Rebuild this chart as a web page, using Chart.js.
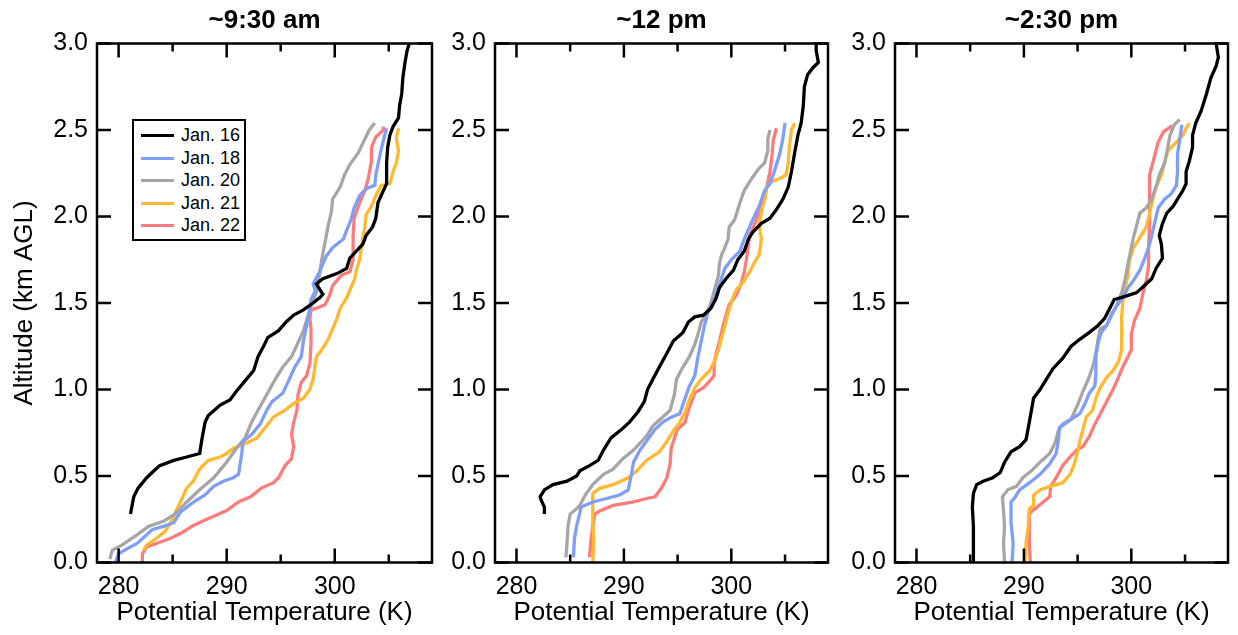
<!DOCTYPE html>
<html>
<head>
<meta charset="utf-8">
<script src="https://cdn.jsdelivr.net/npm/chart.js@4.4.0/dist/chart.umd.min.js"></script>
<style>
body{margin:0;background:#fff;width:1238px;height:635px;position:relative;overflow:hidden;font-family:"Liberation Sans",Arial,sans-serif}
canvas{position:absolute;top:0}
#legend{position:absolute;left:132px;top:119px;width:110px;height:115px;border:2px solid #000;background:#fff;padding-top:3px}
#legend .row{position:relative;height:22.5px;line-height:22.5px;font-size:18px;color:#000}
#legend .sw{position:absolute;left:7px;top:10px;width:33px;height:3px}
#legend .lb{position:absolute;left:47px;top:0}
</style>
</head>
<body>
<canvas id="c1" width="440" height="635" style="left:0"></canvas>
<canvas id="c2" width="400" height="635" style="left:440px"></canvas>
<canvas id="c3" width="398" height="635" style="left:840px"></canvas>
<div id="legend"></div>
<script>
// profiles: [theta K, altitude km]
const dates = ['Jan. 16','Jan. 18','Jan. 20','Jan. 21','Jan. 22'];
const colors = ['#000000','#7f9ef7','#a6a6a6','#ffb830','#ff7b7b'];
const titles = ['~9:30 am','~12 pm','~2:30 pm'];
const xLabels = [280,290,300];

// ~9:30 am
const am16 = [[281.1,0.28],[281.4,0.38],[281.8,0.43],[282.6,0.49],[283.1,0.52],[283.8,0.56],[285.1,0.59],[286.3,0.61],[287.5,0.63],[287.7,0.71],[288.0,0.81],[288.3,0.85],[289.4,0.91],[290.3,0.94],[290.9,0.99],[291.7,1.05],[292.5,1.11],[292.9,1.19],[293.5,1.26],[293.8,1.30],[294.8,1.34],[295.5,1.39],[296.2,1.43],[297.1,1.46],[298.0,1.50],[298.6,1.53],[298.9,1.55],[298.3,1.61],[298.9,1.64],[300.2,1.67],[301.1,1.70],[301.4,1.76],[302.0,1.80],[302.6,1.84],[302.9,1.89],[303.5,1.94],[303.8,1.99],[304.0,2.08],[304.5,2.15],[304.8,2.19],[304.8,2.31],[304.9,2.40],[305.1,2.47],[305.4,2.52],[305.9,2.57],[306.0,2.64],[306.2,2.71],[306.3,2.80],[306.5,2.89],[306.7,2.96],[306.9,3.0]];
const am18 = [[279.7,0.0],[280.0,0.05],[280.8,0.08],[281.7,0.11],[282.6,0.16],[283.1,0.19],[284.2,0.21],[285.1,0.23],[285.7,0.29],[286.3,0.32],[287.2,0.36],[288.0,0.39],[288.8,0.44],[289.7,0.47],[290.6,0.49],[291.1,0.51],[291.4,0.63],[291.5,0.70],[292.3,0.74],[293.1,0.80],[293.7,0.88],[294.2,0.93],[295.2,0.98],[295.8,1.06],[296.3,1.13],[296.9,1.19],[297.1,1.28],[297.4,1.37],[297.7,1.47],[297.8,1.52],[298.2,1.57],[298.0,1.61],[298.6,1.68],[299.2,1.77],[299.8,1.82],[300.8,1.87],[301.1,1.92],[301.5,1.98],[301.8,2.05],[302.3,2.12],[302.9,2.16],[303.7,2.18],[303.8,2.24],[304.2,2.36],[304.5,2.44],[304.8,2.51]];
const am20 = [[279.2,0.02],[279.4,0.07],[280.3,0.10],[281.7,0.16],[282.8,0.21],[284.2,0.24],[285.2,0.28],[286.3,0.35],[287.5,0.42],[288.8,0.49],[290.0,0.58],[290.9,0.66],[291.7,0.72],[292.3,0.81],[292.9,0.88],[293.7,0.97],[294.5,1.06],[295.2,1.13],[296.0,1.19],[296.6,1.27],[297.1,1.34],[297.5,1.42],[297.8,1.48],[298.3,1.56],[298.5,1.63],[298.8,1.75],[299.1,1.85],[299.4,1.95],[299.7,2.03],[299.8,2.10],[300.5,2.17],[300.9,2.24],[301.4,2.30],[302.2,2.37],[302.8,2.45],[303.2,2.50],[303.7,2.54]];
const am21 = [[282.3,0.07],[282.6,0.10],[283.5,0.14],[284.3,0.18],[284.9,0.24],[285.4,0.31],[285.8,0.36],[286.3,0.43],[286.9,0.47],[287.5,0.54],[288.3,0.59],[289.4,0.61],[290.0,0.63],[290.6,0.66],[291.8,0.69],[292.8,0.72],[293.7,0.79],[294.3,0.84],[295.4,0.88],[296.2,0.92],[297.1,0.95],[297.7,1.00],[298.0,1.06],[298.3,1.19],[298.8,1.23],[299.4,1.29],[299.8,1.35],[300.2,1.41],[300.5,1.47],[301.1,1.53],[301.5,1.59],[301.8,1.63],[302.0,1.69],[302.3,1.75],[302.5,1.84],[302.8,1.94],[302.9,2.01],[303.4,2.06],[303.8,2.12],[304.3,2.18],[305.1,2.19],[305.4,2.26],[305.7,2.31],[305.9,2.38],[305.7,2.45],[305.9,2.51]];
const am22 = [[282.2,0.0],[282.2,0.05],[282.6,0.09],[283.5,0.11],[284.8,0.14],[285.8,0.17],[286.8,0.21],[287.8,0.24],[288.9,0.27],[290.0,0.30],[291.1,0.35],[292.2,0.38],[293.2,0.43],[294.3,0.46],[294.8,0.49],[295.4,0.56],[296.0,0.60],[296.2,0.67],[296.0,0.74],[296.2,0.81],[296.5,0.88],[296.6,0.97],[296.9,1.04],[297.4,1.08],[297.7,1.15],[297.8,1.26],[297.8,1.35],[297.7,1.41],[297.8,1.46],[298.3,1.47],[299.1,1.49],[299.5,1.54],[299.8,1.60],[300.6,1.66],[301.4,1.68],[301.7,1.75],[301.7,1.89],[301.8,1.99],[302.3,2.08],[302.8,2.15],[303.1,2.22],[303.4,2.32],[303.4,2.40],[303.8,2.46],[304.5,2.50],[304.5,2.52]];

// ~12 pm
const noon16 = [[282.6,0.28],[282.6,0.32],[282.3,0.36],[282.2,0.38],[282.6,0.42],[283.4,0.45],[284.7,0.47],[285.6,0.50],[285.9,0.53],[286.8,0.56],[287.6,0.59],[288.1,0.65],[288.8,0.72],[289.8,0.77],[290.5,0.81],[291.3,0.87],[291.9,0.93],[292.2,1.00],[292.7,1.06],[293.3,1.13],[294.0,1.21],[294.6,1.28],[295.5,1.33],[296.0,1.39],[296.6,1.42],[297.4,1.43],[298.1,1.47],[298.6,1.53],[298.9,1.59],[299.5,1.64],[300.2,1.69],[300.6,1.75],[301.2,1.80],[301.6,1.87],[302.0,1.91],[302.8,1.96],[303.6,1.99],[304.2,2.04],[304.8,2.10],[305.3,2.17],[305.6,2.26],[305.9,2.37],[306.2,2.47],[306.5,2.54],[306.7,2.64],[306.8,2.75],[307.1,2.82],[307.6,2.86],[308.1,2.89],[307.9,2.96],[307.9,3.0]];
const noon18 = [[285.3,0.03],[285.4,0.14],[285.6,0.21],[285.9,0.29],[286.0,0.32],[287.1,0.35],[288.4,0.37],[289.6,0.39],[290.4,0.42],[290.7,0.51],[290.9,0.58],[291.5,0.65],[292.2,0.71],[292.9,0.77],[293.6,0.81],[294.4,0.84],[295.2,0.86],[295.7,0.95],[296.1,1.02],[296.6,1.08],[296.9,1.19],[297.2,1.28],[297.5,1.37],[297.8,1.44],[298.4,1.52],[298.9,1.61],[299.4,1.70],[300.0,1.75],[300.8,1.80],[301.2,1.87],[301.7,1.94],[302.2,2.01],[302.6,2.06],[303.1,2.15],[303.6,2.19],[304.0,2.26],[304.5,2.36],[304.8,2.45],[305.0,2.54]];
const noon20 = [[284.6,0.03],[284.7,0.11],[284.8,0.21],[285.0,0.28],[285.4,0.30],[285.9,0.33],[286.4,0.39],[287.1,0.45],[288.1,0.51],[289.0,0.54],[289.9,0.60],[290.9,0.65],[291.5,0.69],[292.1,0.73],[292.7,0.79],[293.6,0.84],[294.3,0.88],[294.7,0.97],[294.9,1.06],[295.5,1.13],[296.1,1.19],[296.6,1.26],[296.9,1.32],[297.2,1.39],[297.7,1.44],[298.1,1.50],[298.4,1.57],[298.8,1.66],[298.9,1.73],[299.1,1.78],[299.4,1.82],[299.7,1.87],[299.8,1.94],[300.3,1.98],[300.8,2.08],[301.2,2.15],[301.9,2.22],[302.6,2.28],[303.1,2.31],[303.4,2.38],[303.4,2.45],[303.6,2.50]];
const noon21 = [[287.1,0.0],[287.2,0.11],[287.1,0.25],[287.1,0.40],[287.8,0.43],[289.0,0.45],[290.4,0.49],[291.2,0.53],[292.1,0.59],[293.3,0.64],[294.0,0.70],[294.6,0.76],[295.2,0.81],[295.7,0.87],[296.1,0.94],[296.6,1.01],[297.2,1.06],[298.0,1.11],[298.4,1.16],[298.8,1.23],[299.1,1.30],[299.4,1.37],[299.7,1.44],[300.2,1.54],[300.5,1.58],[301.1,1.62],[301.7,1.68],[302.2,1.74],[302.6,1.78],[302.8,1.87],[302.6,1.95],[302.8,2.03],[303.1,2.10],[303.3,2.17],[303.7,2.20],[304.5,2.22],[305.1,2.24],[305.3,2.31],[305.4,2.40],[305.6,2.50],[305.9,2.54]];
const noon22 = [[286.8,0.03],[286.9,0.11],[287.1,0.21],[287.3,0.28],[287.8,0.30],[289.0,0.33],[290.9,0.35],[292.1,0.37],[292.9,0.38],[293.5,0.43],[294.0,0.49],[294.3,0.57],[294.4,0.66],[294.7,0.72],[295.0,0.77],[295.7,0.81],[296.0,0.88],[296.3,0.93],[296.6,0.98],[297.4,1.01],[298.0,1.05],[298.4,1.08],[298.4,1.15],[298.6,1.21],[298.9,1.28],[299.2,1.36],[299.5,1.43],[299.8,1.49],[300.5,1.55],[300.9,1.61],[301.2,1.68],[301.4,1.75],[301.6,1.84],[301.7,1.89],[302.2,1.96],[302.6,2.03],[303.1,2.10],[303.3,2.17],[303.6,2.26],[303.8,2.36],[303.9,2.44],[304.2,2.51]];

// ~2:30 pm
const pm16 = [[285.3,0.0],[285.3,0.11],[285.3,0.21],[285.2,0.32],[285.3,0.40],[285.6,0.45],[286.2,0.47],[287.1,0.49],[287.8,0.52],[288.2,0.58],[288.8,0.64],[289.6,0.67],[290.2,0.71],[290.5,0.81],[290.9,0.95],[291.5,1.00],[292.1,1.06],[292.7,1.12],[293.6,1.18],[294.4,1.25],[295.2,1.29],[296.1,1.33],[296.9,1.37],[297.5,1.41],[298.0,1.47],[298.4,1.52],[299.5,1.54],[300.5,1.56],[301.2,1.60],[301.9,1.64],[302.3,1.70],[302.9,1.76],[302.8,1.84],[302.6,1.89],[302.9,1.96],[303.3,2.02],[303.9,2.06],[304.3,2.10],[304.8,2.15],[305.1,2.19],[305.1,2.26],[305.4,2.32],[305.7,2.40],[305.7,2.47],[306.0,2.54],[306.5,2.61],[307.0,2.71],[307.4,2.80],[307.9,2.87],[308.1,2.92],[307.9,3.0]];
const pm18 = [[288.9,0.0],[289.0,0.11],[288.8,0.23],[288.8,0.35],[289.1,0.37],[289.6,0.42],[290.5,0.46],[291.5,0.51],[292.4,0.57],[293.0,0.63],[293.2,0.70],[293.3,0.78],[294.0,0.81],[294.7,0.84],[295.2,0.86],[295.7,0.92],[296.1,0.98],[296.6,1.02],[296.7,1.09],[296.7,1.19],[296.9,1.27],[297.2,1.33],[297.7,1.37],[298.1,1.43],[298.6,1.48],[299.2,1.53],[299.7,1.59],[300.2,1.63],[300.8,1.69],[301.2,1.75],[301.6,1.82],[301.9,1.89],[302.2,1.97],[302.5,2.05],[303.1,2.10],[303.7,2.13],[304.2,2.18],[304.3,2.26],[304.3,2.36],[304.5,2.44],[304.7,2.53]];
const pm20 = [[288.2,0.0],[288.1,0.11],[288.2,0.21],[288.1,0.30],[288.0,0.38],[288.5,0.42],[289.3,0.44],[289.9,0.49],[290.7,0.53],[291.5,0.58],[292.4,0.63],[292.9,0.69],[293.2,0.76],[293.6,0.80],[294.4,0.83],[295.0,0.91],[295.5,0.99],[296.0,1.06],[296.4,1.13],[296.7,1.21],[296.9,1.29],[297.1,1.35],[297.7,1.37],[298.1,1.42],[298.6,1.48],[299.1,1.56],[299.4,1.63],[299.7,1.73],[300.0,1.82],[300.2,1.88],[300.5,1.95],[300.8,2.02],[301.4,2.05],[301.9,2.10],[302.3,2.17],[302.6,2.24],[303.1,2.31],[303.4,2.40],[303.6,2.47],[304.0,2.53],[304.5,2.56]];
const pm21 = [[290.1,0.0],[290.2,0.11],[290.4,0.21],[290.5,0.31],[290.9,0.33],[290.9,0.39],[291.5,0.42],[292.4,0.44],[293.6,0.46],[294.3,0.51],[294.7,0.57],[295.0,0.64],[295.2,0.70],[295.5,0.77],[295.8,0.84],[296.4,0.88],[296.7,0.95],[297.1,1.01],[297.7,1.07],[298.3,1.11],[298.8,1.16],[299.1,1.23],[299.1,1.33],[299.1,1.42],[299.2,1.50],[299.4,1.59],[299.7,1.66],[299.8,1.74],[300.2,1.82],[300.8,1.88],[301.4,1.94],[301.7,2.02],[302.0,2.10],[302.3,2.17],[302.8,2.24],[303.1,2.31],[303.4,2.38],[304.2,2.43],[304.8,2.47],[305.1,2.51],[305.4,2.54]];
const pm22 = [[290.6,0.0],[290.5,0.11],[290.5,0.21],[290.5,0.28],[291.0,0.31],[291.8,0.35],[292.4,0.38],[292.5,0.44],[293.0,0.49],[293.6,0.56],[294.3,0.61],[294.9,0.65],[295.5,0.67],[296.1,0.73],[296.6,0.80],[297.2,0.87],[297.7,0.93],[298.3,1.00],[298.8,1.07],[299.2,1.13],[299.7,1.19],[300.0,1.23],[300.0,1.32],[300.3,1.40],[300.8,1.47],[301.1,1.56],[301.4,1.63],[301.6,1.71],[301.6,1.82],[301.7,1.94],[301.7,2.05],[301.7,2.15],[301.7,2.24],[302.0,2.31],[302.5,2.43],[303.0,2.49],[303.7,2.52],[304.0,2.51]];

const panels = [[am16,am18,am20,am21,am22],[noon16,noon18,noon20,noon21,noon22],[pm16,pm18,pm20,pm21,pm22]];

Chart.defaults.font.family = '"Liberation Sans", Arial, sans-serif';
Chart.defaults.color = '#000';

// frame + inward ticks on all four sides, panel title centred over the plot box
const frameTicks = {
  id:'frameTicks',
  afterDatasetsDraw(chart, args, opts){
    const {ctx, chartArea:a, scales:{x,y}} = chart;
    ctx.save(); ctx.strokeStyle='#000'; ctx.lineWidth=2.5;
    ctx.beginPath();
    x.ticks.forEach(t=>{ const px=x.getPixelForValue(t.value); const len = t.value%10===0?14:8;
      ctx.moveTo(px,a.bottom); ctx.lineTo(px,a.bottom-len); ctx.moveTo(px,a.top); ctx.lineTo(px,a.top+len); });
    y.ticks.forEach(t=>{ const py=y.getPixelForValue(t.value);
      ctx.moveTo(a.left,py); ctx.lineTo(a.left+14,py); ctx.moveTo(a.right,py); ctx.lineTo(a.right-14,py); });
    ctx.stroke();
    ctx.strokeRect(a.left,a.top,a.right-a.left,a.bottom-a.top);
    ctx.fillStyle='#000'; ctx.font='bold 26px "Liberation Sans", Arial, sans-serif';
    ctx.textAlign='center'; ctx.textBaseline='middle';
    ctx.fillText(opts.text, (a.left+a.right)/2, 21);
    ctx.restore();
  }
};

function makePanel(id, i, leftW, rightPad){
  const datasets = panels[i].map((arr,k)=>({
    label: dates[k], data: arr.map(p=>({x:p[0], y:p[1]})),
    showLine:true, borderColor:colors[k], backgroundColor:colors[k],
    borderWidth:3.3, pointRadius:0, tension:0
  }));
  new Chart(document.getElementById(id), {
    type:'scatter',
    data:{ datasets },
    plugins:[frameTicks],
    options:{
      responsive:false, animation:false,
      layout:{ padding:{ left:0, right:rightPad, top:43.5, bottom:0 } },
      plugins:{
        legend:{ display:false }, tooltip:{ enabled:false }, title:{ display:false },
        frameTicks:{ text:titles[i] }
      },
      scales:{
        x:{ type:'linear', min:278, max:309,
          grid:{ display:false, drawTicks:false }, border:{ display:false },
          ticks:{ stepSize:5, includeBounds:false, padding:10, font:{ size:25 },
            callback:v=> xLabels.includes(v) ? String(v) : '' },
          title:{ display:true, text:'Potential Temperature (K)', font:{ size:26 }, padding:{ top:0, bottom:7 } },
          afterFit:s=>{ s.height = 72.5; }
        },
        y:{ type:'linear', min:0, max:3,
          grid:{ display:false, drawTicks:false }, border:{ display:false },
          ticks:{ stepSize:0.5, padding:9, font:{ size:25 }, callback:v=>v.toFixed(1) },
          title:{ display:i===0, text:'Altitude (km AGL)', font:{ size:26 }, padding:{ top:9, bottom:0 } },
          afterFit:s=>{ s.width = leftW; }
        }
      }
    }
  });
}

makePanel('c1', 0, 97, 8);
makePanel('c2', 1, 55, 12);
makePanel('c3', 2, 55, 10);

// legend box in the first panel
const lg = document.getElementById('legend');
dates.forEach((d,k)=>{
  const row = document.createElement('div'); row.className='row';
  row.innerHTML = `<div class="sw" style="background:${colors[k]}"></div><span class="lb">${d}</span>`;
  lg.appendChild(row);
});
</script>
</body>
</html>
